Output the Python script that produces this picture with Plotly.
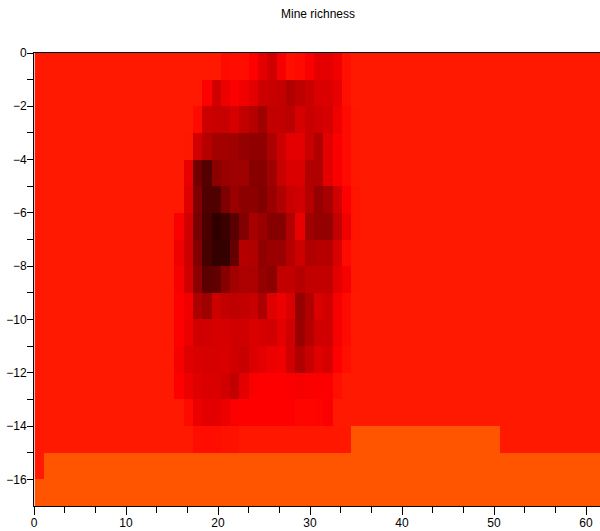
import plotly.graph_objects as go

title = "Mine richness"
n_cols = 62
n_rows = 17
BG = 280
ORANGE = 340

# Darkness-coded values per row: red level up to 255, then green is added on top.
# Each list starts at column 15 and runs to column 34; other columns are background.
first_col = 15
row0 = [280, 280, 280, 280, 280, 265, 268, 268, 255, 225, 205, 245, 270, 265, 250, 225, 225, 240, 270, 280]
row1 = [280, 280, 280, 255, 205, 235, 250, 240, 225, 200, 195, 190, 170, 185, 195, 215, 215, 230, 270, 280]
row2 = [280, 280, 265, 200, 195, 195, 210, 190, 175, 150, 190, 190, 180, 210, 195, 205, 210, 240, 265, 278]
row3 = [280, 278, 205, 175, 155, 155, 150, 140, 135, 135, 165, 200, 225, 225, 195, 170, 225, 250, 265, 278]
row4 = [280, 230, 100, 75, 130, 145, 150, 150, 125, 125, 150, 195, 215, 215, 170, 170, 225, 250, 265, 278]
row5 = [280, 220, 115, 70, 70, 115, 145, 130, 130, 120, 145, 170, 195, 205, 175, 140, 160, 205, 255, 275]
row6 = [250, 205, 110, 65, 40, 50, 80, 120, 160, 145, 125, 125, 170, 230, 150, 140, 140, 190, 240, 275]
row7 = [240, 200, 120, 60, 45, 45, 90, 175, 170, 135, 145, 145, 175, 200, 170, 175, 175, 215, 265, 278]
row8 = [245, 205, 130, 80, 85, 125, 155, 165, 165, 140, 130, 190, 190, 175, 190, 190, 190, 225, 245, 278]
row9 = [255, 240, 165, 150, 200, 190, 185, 190, 195, 165, 220, 235, 215, 140, 170, 215, 205, 245, 265, 280]
row10 = [255, 235, 205, 205, 210, 210, 205, 205, 215, 210, 205, 225, 205, 145, 175, 205, 205, 245, 265, 280]
row11 = [245, 220, 215, 210, 210, 215, 205, 195, 215, 225, 235, 240, 205, 170, 195, 220, 210, 255, 270, 280]
row12 = [255, 235, 220, 215, 215, 205, 190, 225, 250, 255, 255, 255, 250, 245, 250, 252, 252, 270, 280, 280]
row13 = [280, 265, 235, 225, 225, 238, 250, 255, 255, 255, 255, 255, 255, 260, 260, 258, 250, 280, 280, 280]
row14 = [280, 280, 268, 268, 268, 272, 272, 278, 278, 278, 278, 278, 278, 278, 278, 278, 278, 278, 278, 280]
mid_rows = [row0, row1, row2, row3, row4, row5, row6, row7, row8, row9,
            row10, row11, row12, row13, row14]

z = []
for r in range(n_rows):
    vals = [BG] * n_cols
    if r < len(mid_rows):
        for i, v in enumerate(mid_rows[r]):
            vals[first_col + i] = v
    z.append(vals)
for c in range(34, 50):
    z[14][c] = ORANGE
for c in range(1, n_cols):
    z[15][c] = ORANGE
for c in range(n_cols):
    z[16][c] = ORANGE

cmax = ORANGE
colorscale = [[0, "#000000"], [40 / cmax, "#300000"], [100 / cmax, "#700000"],
              [160 / cmax, "#a80000"], [255 / cmax, "#ff0000"], [1, "#ff5500"]]

fig = go.Figure(go.Heatmap(
    z=z, x0=0.584, dx=1.012, y0=-0.5, dy=-1,
    zmin=0, zmax=cmax, colorscale=colorscale, showscale=False,
))

font = dict(family="Liberation Sans", size=12, color="#000000")
fig.update_layout(
    width=600, height=531, autosize=False,
    paper_bgcolor="white", plot_bgcolor="white",
    margin=dict(l=34, r=0, t=53, b=25, pad=0),
    font=font,
    title=dict(text=title, x=0.53, xanchor="center", y=0.974, yanchor="middle",
               font=dict(family="Liberation Sans", size=12, color="#000000")),
)
fig.update_xaxes(
    range=[0, 61.52], tickmode="array", tickvals=[0, 10, 20, 30, 40, 50, 60],
    ticks="outside", ticklen=8, tickwidth=1, tickcolor="#000",
    showline=True, linecolor="#000", linewidth=1, showgrid=False, zeroline=False,
    mirror=True, ticklabelstandoff=-2, automargin=False,
    minor=dict(tickmode="array",
               tickvals=[v + d for v in range(0, 60, 10) for d in (10 / 3, 20 / 3)],
               ticks="outside", ticklen=6, tickwidth=1, tickcolor="#000", showgrid=False),
)
fig.update_yaxes(
    range=[-17, 0], tickmode="array", tickvals=[0, -2, -4, -6, -8, -10, -12, -14, -16],
    ticks="outside", ticklen=6, tickwidth=1, tickcolor="#000",
    showline=True, linecolor="#000", linewidth=1, showgrid=False, zeroline=False,
    mirror=True, ticklabelstandoff=-2, automargin=False,
    minor=dict(tickmode="array",
               tickvals=[-1, -3, -5, -7, -9, -11, -13, -15],
               ticks="outside", ticklen=6, tickwidth=1, tickcolor="#000", showgrid=False),
)
fig.write_html(
    "out.html",
    config={"displayModeBar": False},
    post_script="document.body.style.margin='0';document.body.style.overflow='hidden';",
)
